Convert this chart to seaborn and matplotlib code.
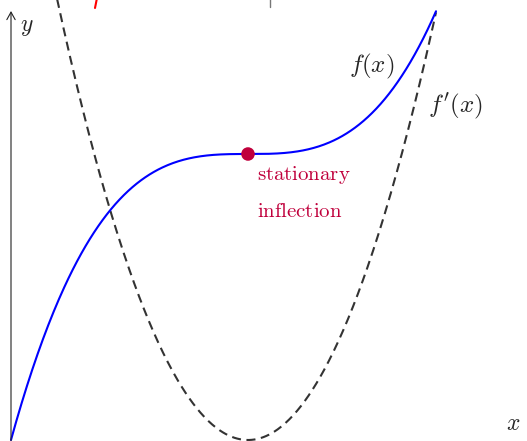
import numpy as np
import pandas as pd
import matplotlib
matplotlib.use("Agg")
import matplotlib.pyplot as plt
import seaborn as sns

# values (1 unit = 100 px, origin at the axes corner)
stationary_x = 2.37
stationary_y = 2.86
cubic_coef = 0.2148        # f(x) = y0 + c (x - x0)^3
deriv_coef = 1.21          # dashed curve = k (x - x0)^2
f_domain = [0.0, 4.25]
df_domain = [0.40, 4.25]
x_axis_level = -0.03       # x axis sits just under the visible area
fragment_red_x = [0.86, 0.84]
fragment_red_y = [4.42, 4.32]
fragment_tick_x = [2.59, 2.59]
fragment_tick_y = [4.42, 4.33]

sns.set_theme(style="white")
plt.rcParams["mathtext.fontset"] = "cm"
plt.rcParams["font.family"] = ["DejaVu Serif"]
plt.rcParams["lines.scale_dashes"] = False

x = np.linspace(f_domain[0], f_domain[1], 400)
curve = pd.DataFrame({"x": x, "y": stationary_y + cubic_coef * (x - stationary_x) ** 3})
xd = np.linspace(df_domain[0], df_domain[1], 400)
deriv = pd.DataFrame({"x": xd, "y": deriv_coef * (xd - stationary_x) ** 2})

fig = plt.figure(figsize=(5.27, 4.41), dpi=100)
ax = fig.add_axes([0, 0, 1, 1])
ax.set_xlim(-0.11, 5.16)
ax.set_ylim(-0.01, 4.40)
ax.axis("off")

# axes with arrows
arrow = dict(arrowstyle="->, head_length=0.45, head_width=0.25", color="#222222",
             lw=0.8, mutation_scale=12, shrinkA=0, shrinkB=0)
ax.annotate("", xy=(0, 4.29), xytext=(0, x_axis_level), arrowprops=arrow)
ax.annotate("", xy=(5.15, x_axis_level), xytext=(0, x_axis_level), arrowprops=arrow)

sns.lineplot(data=deriv, x="x", y="y", ax=ax, color="#333333", lw=1.5,
             dashes=False, linestyle=(0, (6.5, 4.0)), estimator=None)
sns.lineplot(data=curve, x="x", y="y", ax=ax, color="#0000ff", lw=1.5, estimator=None)
sns.scatterplot(x=[stationary_x], y=[stationary_y], ax=ax, color="#c0003c",
                s=95, edgecolor="none", zorder=5)

# cut-off pieces at the top edge
ax.plot(fragment_red_x, fragment_red_y, color="#ff0000", lw=1.5)
ax.plot(fragment_tick_x, fragment_tick_y, color="#777777", lw=1.0)

ax.text(0.16, 4.14, r"$y$", fontsize=17, ha="center", va="center")
ax.text(5.02, 0.17, r"$x$", fontsize=17, ha="center", va="center")
ax.text(3.61, 3.74, r"$f(x)$", fontsize=18, ha="center", va="center")
ax.text(4.44, 3.34, r"$f'(x)$", fontsize=18, ha="center", va="center")
ax.text(2.46, 2.60, r"$\mathrm{stationary}$", fontsize=15, color="#c0003c",
        ha="left", va="baseline")
ax.text(2.46, 2.23, r"$\mathrm{inflection}$", fontsize=15, color="#c0003c",
        ha="left", va="baseline")

fig.savefig("out.png", dpi=100)
